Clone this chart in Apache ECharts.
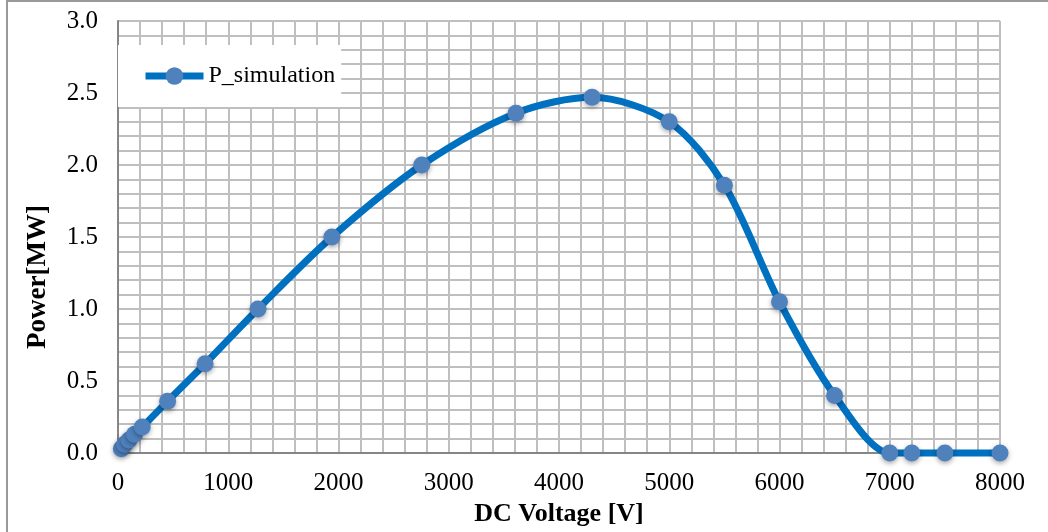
<!DOCTYPE html>
<html>
<head>
<meta charset="utf-8">
<script src="https://cdn.jsdelivr.net/npm/echarts@6/dist/echarts.min.js"></script>
<style>html,body{margin:0;padding:0;background:#fff;}#chart{width:1048px;height:532px;}</style>
</head>
<body>
<div id="chart"></div>
<script>
const voltage = [30, 60, 100, 150, 220, 450, 790, 1270, 1940, 2755, 3610, 4300, 5000, 5500, 6000, 6500, 7000, 7200, 7500, 8000];
const power   = [0.03, 0.06, 0.09, 0.13, 0.18, 0.36, 0.62, 1.00, 1.50, 2.00, 2.36, 2.47, 2.30, 1.86, 1.05, 0.40, 0.00, 0.00, 0.00, 0.00];
const seriesName = 'P_simulation';
const xTitle = 'DC Voltage [V]';
const yTitle = 'Power[MW]';

const font = '"Liberation Serif", "Times New Roman", serif';
const chart = echarts.init(document.getElementById('chart'), null, {renderer: 'canvas'});
chart.setOption({
  animation: false,
  backgroundColor: '#fff',
  grid: {left: 118, right: 48, top: 21, bottom: 78, containLabel: false},
  legend: {
    left: 118, top: 45,
    backgroundColor: '#fff',
    padding: [19, 6, 19, 24],
    itemWidth: 58, itemHeight: 22,
    lineStyle: {width: 7, color: '#0070C0'},
    textStyle: {fontFamily: font, fontSize: 24, color: '#000'},
    data: [seriesName]
  },
  xAxis: {
    type: 'value', min: 0, max: 8000, interval: 1000,
    name: xTitle, nameLocation: 'middle', nameGap: 48,
    nameTextStyle: {fontFamily: font, fontSize: 26, fontWeight: 'bold', color: '#000'},
    axisLine: {show: true, lineStyle: {color: '#868686', width: 2}},
    axisTick: {show: false},
    axisLabel: {fontFamily: font, fontSize: 25, color: '#000', margin: 18, formatter: v => String(v)},
    splitLine: {show: true, lineStyle: {color: '#BFBFBF', width: 2}},
    minorTick: {show: false, splitNumber: 5},
    minorSplitLine: {show: true, lineStyle: {color: '#BFBFBF', width: 2}}
  },
  yAxis: {
    type: 'value', min: 0, max: 3, interval: 0.5,
    name: yTitle, nameLocation: 'middle', nameGap: 66, nameRotate: 90,
    nameTextStyle: {fontFamily: font, fontSize: 27, fontWeight: 'bold', color: '#000', padding: [0, 80, 0, 0]},
    axisLine: {show: true, lineStyle: {color: '#868686', width: 2}},
    axisTick: {show: false},
    axisLabel: {fontFamily: font, fontSize: 25, color: '#000', margin: 20, formatter: v => v.toFixed(1)},
    splitLine: {show: true, lineStyle: {color: '#BFBFBF', width: 2}},
    minorTick: {show: false, splitNumber: 5},
    minorSplitLine: {show: true, lineStyle: {color: '#BFBFBF', width: 2}}
  },
  graphic: [
    {type: 'line', shape: {x1: 7, y1: 0, x2: 7, y2: 532}, style: {stroke: '#999', lineWidth: 2}, z: 100},
    {type: 'line', shape: {x1: 7, y1: 1, x2: 1048, y2: 1}, style: {stroke: '#999', lineWidth: 2}, z: 100}
  ],
  series: [{
    name: seriesName,
    type: 'line',
    smooth: 0.3,
    data: voltage.map((v, i) => [v, power[i]]),
    symbol: 'circle', symbolSize: 17,
    lineStyle: {color: '#0070C0', width: 7},
    itemStyle: {color: '#4F81BD', shadowBlur: 5, shadowColor: 'rgba(0,0,0,0.35)', shadowOffsetY: 2},
    clip: false,
    z: 5
  }]
});
</script>
</body>
</html>
